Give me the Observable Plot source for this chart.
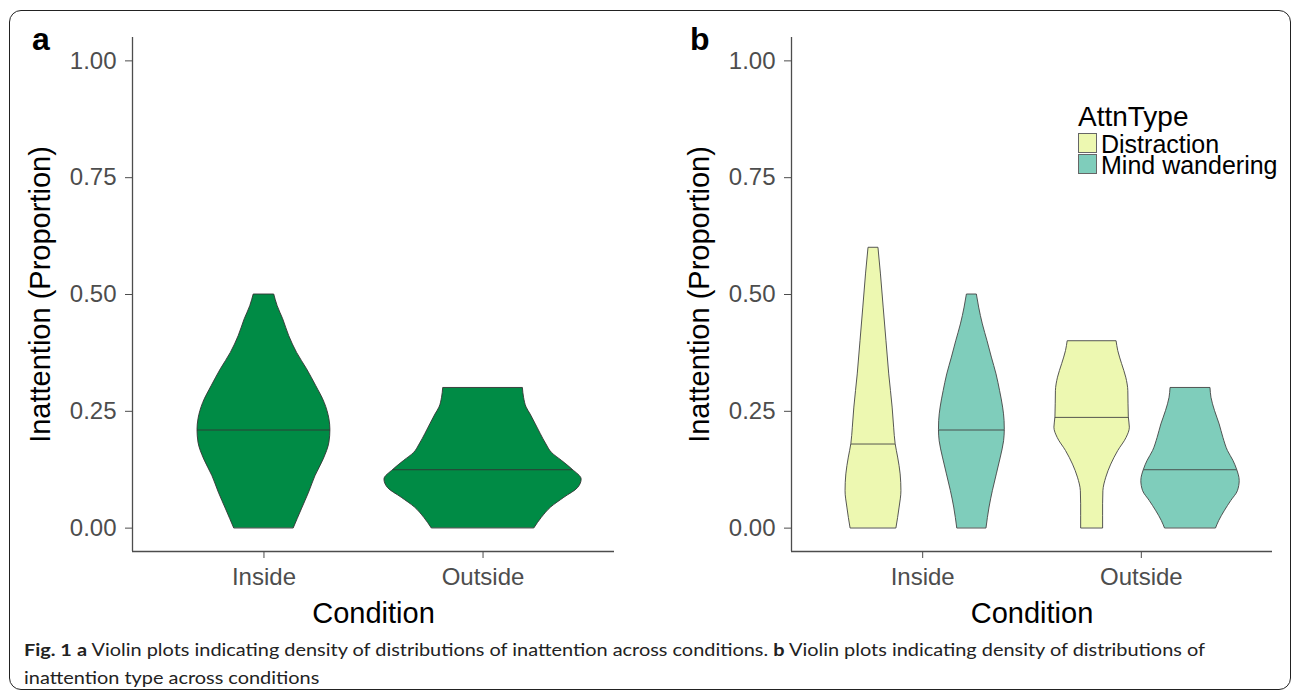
<!DOCTYPE html>
<html><head><meta charset="utf-8">
<script src="https://cdn.jsdelivr.net/npm/d3@7"></script>
<script src="https://cdn.jsdelivr.net/npm/@observablehq/plot@0.6"></script>
<style>
html,body{margin:0;padding:0;background:#fff;}
#fig{position:relative;width:1292px;height:695px;overflow:hidden;font-family:"Liberation Sans",Arial,sans-serif;background:#fff;}
#border{position:absolute;left:9px;top:10px;width:1282px;height:680px;border:1.5px solid #222;border-radius:12px;box-sizing:border-box;}
.panel{position:absolute;top:0;}
.tag{position:absolute;font-weight:bold;font-size:32px;line-height:32px;color:#000;}
.lt{position:absolute;color:#000;white-space:nowrap;}
.key{position:absolute;width:19px;height:20px;border:1px solid #666;box-sizing:border-box;}
.cap{position:absolute;left:24px;white-space:nowrap;font-family:Lato,"Open Sans",sans-serif;font-size:17px;line-height:17px;color:#222;transform-origin:0 0;}
</style></head>
<body>
<div id="fig">
  <div id="border"></div>
  <div class="panel" id="pa" style="left:0px"></div>
  <div class="panel" id="pb" style="left:646px"></div>
  <div class="tag" style="left:32px;top:23px">a</div>
  <div class="tag" style="left:690px;top:23px">b</div>
  <div class="lt" style="left:1078px;top:103px;font-size:28px;line-height:28px">AttnType</div>
  <div class="key" id="k0" style="left:1078px;top:133px"></div>
  <div class="key" id="k1" style="left:1078px;top:154px"></div>
  <div class="lt" id="l0" style="left:1101px;top:133.6px;font-size:25px;line-height:20px"></div>
  <div class="lt" id="l1" style="left:1101px;top:154.6px;font-size:25px;line-height:20px"></div>
  <div class="cap" id="c1" style="top:641px"><b>Fig. 1</b> <b>a</b> Violin plots indicating density of distributions of inattention across conditions. <b>b</b> Violin plots indicating density of distributions of</div>
  <div class="cap" id="c2" style="top:669px">inattention type across conditions</div>
</div>
<script>
// ---------- data ----------
const conditions = ["Inside", "Outside"];
const attnTypes = ["Distraction", "Mind wandering"];
const yTicks = [0, 0.25, 0.5, 0.75, 1];
const attnColors = ["#EDF8B1", "#7FCDBB"];
const allColor = "#008B45";

// Panel a: violin profiles (value, relative width)
const aInsideV  = [0, 0.040, 0.076, 0.111, 0.147, 0.183, 0.21, 0.233, 0.268, 0.304, 0.340, 0.375, 0.411, 0.447, 0.475, 0.50];
const aInsideW  = [0.303, 0.384, 0.458, 0.522, 0.606, 0.664, 0.674, 0.664, 0.616, 0.530, 0.437, 0.336, 0.256, 0.195, 0.139, 0.104];
const aOutsideV = [0, 0.022, 0.044, 0.065, 0.086, 0.104, 0.125, 0.144, 0.161, 0.179, 0.201, 0.222, 0.243, 0.258, 0.279, 0.30];
const aOutsideW = [0.522, 0.596, 0.690, 0.825, 0.965, 1.0, 0.909, 0.800, 0.699, 0.643, 0.586, 0.535, 0.483, 0.442, 0.416, 0.404];
const aMedians  = [0.21, 0.125];

// Panel b: violin profiles by condition and attention type
const bInDistV  = [0, 0.044, 0.079, 0.115, 0.151, 0.18, 0.215, 0.258, 0.329, 0.400, 0.472, 0.543, 0.60];
const bInDistW  = [0.467, 0.531, 0.568, 0.552, 0.501, 0.450, 0.420, 0.389, 0.320, 0.264, 0.207, 0.152, 0.101];
const bInMindV  = [0, 0.044, 0.079, 0.115, 0.151, 0.186, 0.21, 0.229, 0.258, 0.293, 0.329, 0.365, 0.400, 0.436, 0.472, 0.50];
const bInMindW  = [0.298, 0.359, 0.426, 0.507, 0.588, 0.655, 0.669, 0.665, 0.635, 0.574, 0.501, 0.406, 0.318, 0.223, 0.148, 0.101];
const bOutDistV = [0, 0.051, 0.079, 0.108, 0.136, 0.165, 0.193, 0.215, 0.237, 0.265, 0.293, 0.322, 0.351, 0.379, 0.40];
const bOutDistW = [0.223, 0.223, 0.229, 0.288, 0.389, 0.531, 0.700, 0.767, 0.746, 0.740, 0.736, 0.694, 0.609, 0.531, 0.497];
const bOutMindV = [0, 0.015, 0.036, 0.058, 0.079, 0.101, 0.125, 0.144, 0.165, 0.193, 0.222, 0.251, 0.279, 0.30];
const bOutMindW = [0.521, 0.582, 0.694, 0.828, 0.963, 1.0, 0.947, 0.872, 0.761, 0.669, 0.592, 0.497, 0.426, 0.406];
const bMedians  = [[0.18, 0.21], [0.237, 0.125]]; // [condition][type]

// ---------- build tables ----------
function violin(V, W, pos, half, key, type, median) {
  const rows = V.map((v, i) => ({key, type, v, x1: pos - half * W[i], x2: pos + half * W[i]}));
  let mi = 0, best = Infinity;
  V.forEach((v, i) => { const d = Math.abs(v - median); if (d < best) { best = d; mi = i; } });
  const med = {key, type, v: median, x1: pos - half * W[mi], x2: pos + half * W[mi]};
  return {rows, med};
}
const aSeries = [
  violin(aInsideV, aInsideW, 1, 0.45, "ai", null, aMedians[0]),
  violin(aOutsideV, aOutsideW, 2, 0.45, "ao", null, aMedians[1])
];
const dodge = 0.225;
const bSeries = [
  violin(bInDistV, bInDistW, 1 - dodge, 0.225, "bid", attnTypes[0], bMedians[0][0]),
  violin(bInMindV, bInMindW, 1 + dodge, 0.225, "bim", attnTypes[1], bMedians[0][1]),
  violin(bOutDistV, bOutDistW, 2 - dodge, 0.225, "bod", attnTypes[0], bMedians[1][0]),
  violin(bOutMindV, bOutMindW, 2 + dodge, 0.225, "bom", attnTypes[1], bMedians[1][1])
];

const axisColor = "#4d4d4d";
function commonMarks() {
  return [
    Plot.axisY({ticks: yTicks, tickFormat: d3.format(".2f"), fontSize: 24, tickSize: 7, tickPadding: 9, color: axisColor, label: null}),
    Plot.axisX({ticks: [1, 2], tickFormat: d => conditions[d - 1], fontSize: 24, tickSize: 7, tickPadding: 9, color: axisColor, label: null}),
    Plot.ruleX([0.4], {stroke: axisColor, strokeWidth: 1.3}),
    Plot.ruleY([-0.05], {stroke: axisColor, strokeWidth: 1.3}),
    Plot.text(["Condition"], {frameAnchor: "bottom", dy: 51, lineAnchor: "top", textAnchor: "middle", fontSize: 29, fill: "#000"}),
    Plot.text(["Inattention (Proportion)"], {frameAnchor: "left", dx: -103, rotate: -90, lineAnchor: "top", textAnchor: "middle", fontSize: 29, fill: "#000"})
  ];
}

const plotA = Plot.plot({
  width: 640, height: 640,
  marginLeft: 132, marginRight: 26, marginTop: 37, marginBottom: 89,
  x: {domain: [0.4, 2.6]},
  y: {domain: [-0.05, 1.05]},
  style: {fontFamily: '"Liberation Sans", Arial, sans-serif', background: "transparent"},
  marks: [
    Plot.areaX(aSeries.flatMap(s => s.rows), {y: "v", x1: "x1", x2: "x2", z: "key", fill: allColor, stroke: "#333", strokeWidth: 0.9, curve: "monotone-y"}),
    Plot.ruleY(aSeries.map(s => s.med), {y: "v", x1: "x1", x2: "x2", stroke: "#333", strokeWidth: 0.9}),
    ...commonMarks()
  ]
});
document.getElementById("pa").appendChild(plotA);

const plotB = Plot.plot({
  width: 646, height: 640,
  marginLeft: 145, marginRight: 20, marginTop: 37, marginBottom: 89,
  x: {domain: [0.4, 2.6]},
  y: {domain: [-0.05, 1.05]},
  color: {domain: attnTypes, range: attnColors},
  style: {fontFamily: '"Liberation Sans", Arial, sans-serif', background: "transparent"},
  marks: [
    Plot.areaX(bSeries.flatMap(s => s.rows), {y: "v", x1: "x1", x2: "x2", z: "key", fill: "type", stroke: "#444", strokeWidth: 0.9, curve: "monotone-y"}),
    Plot.ruleY(bSeries.map(s => s.med), {y: "v", x1: "x1", x2: "x2", stroke: "#444", strokeWidth: 0.9}),
    ...commonMarks()
  ]
});
document.getElementById("pb").appendChild(plotB);

// legend
attnTypes.forEach((t, i) => {
  document.getElementById("k" + i).style.background = attnColors[i];
  document.getElementById("l" + i).textContent = t;
});

// caption width fit
const c1 = document.getElementById("c1"), c2 = document.getElementById("c2");
const w1 = c1.getBoundingClientRect().width;
const sx = 1181 / w1;
c1.style.transform = `scaleX(${sx})`;
c2.style.transform = `scaleX(${sx})`;
</script>
</body></html>
